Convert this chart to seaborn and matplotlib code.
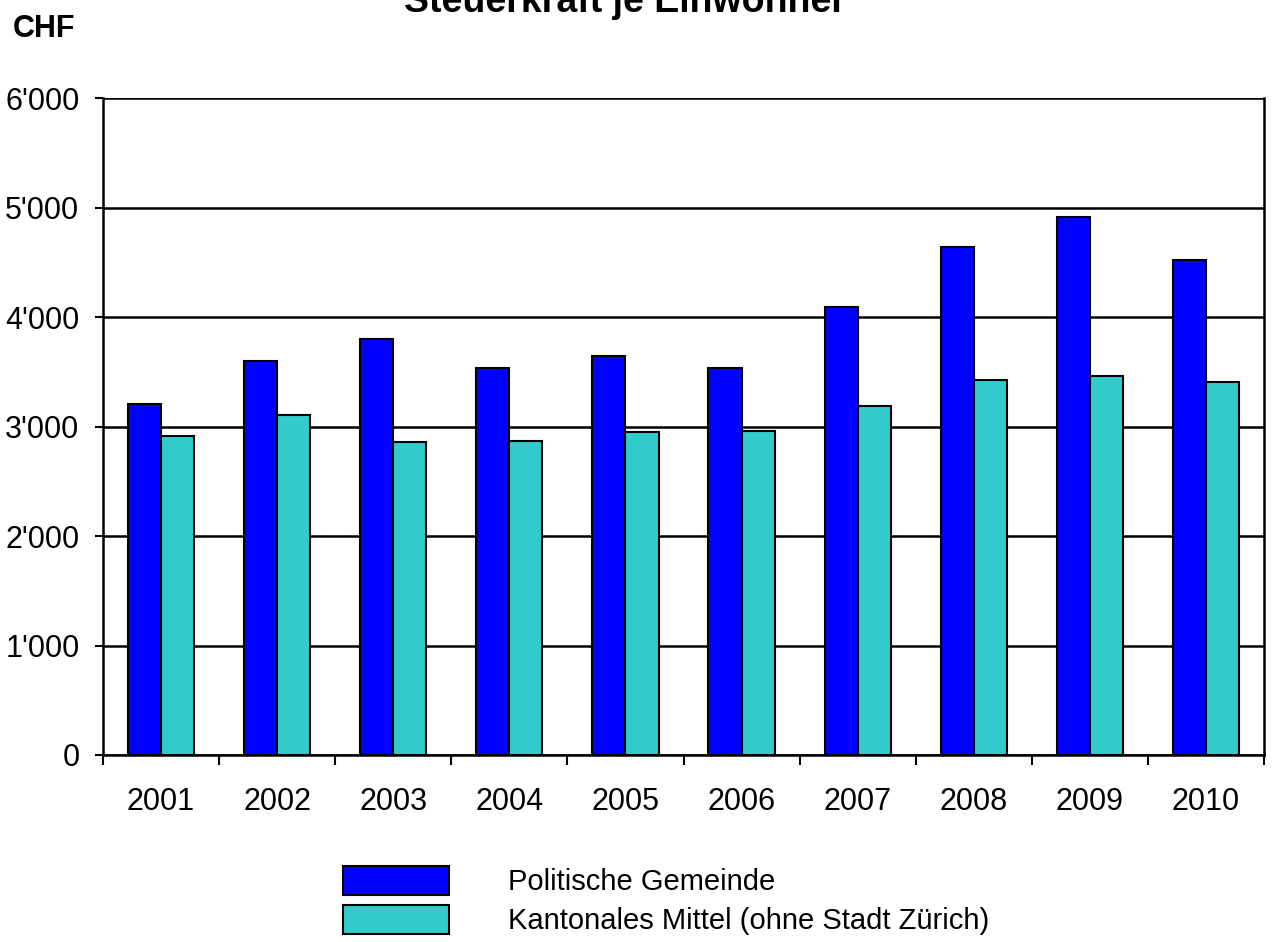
import numpy as np
import pandas as pd
import matplotlib
matplotlib.use("Agg")
import matplotlib.pyplot as plt
from matplotlib.ticker import FuncFormatter, FixedLocator
import seaborn as sns

years = ["2001", "2002", "2003", "2004", "2005", "2006", "2007", "2008", "2009", "2010"]
gemeinde = [3210, 3600, 3800, 3535, 3645, 3530, 4090, 4640, 4910, 4520]
kanton = [2915, 3105, 2860, 2870, 2950, 2960, 3190, 3425, 3465, 3410]
series_names = ["Politische Gemeinde", "Kantonales Mittel (ohne Stadt Zürich)"]
colors = ["#0000FF", "#33CCCC"]

sns.set_theme(style="white")
plt.rcParams["font.family"] = ["Liberation Sans", "DejaVu Sans"]
plt.rcParams["text.color"] = "black"
plt.rcParams["xtick.color"] = "black"
plt.rcParams["ytick.color"] = "black"
plt.rcParams["axes.labelcolor"] = "black"

df = pd.DataFrame({
    "Jahr": years * 2,
    "Wert": gemeinde + kanton,
    "Serie": [series_names[0]] * len(years) + [series_names[1]] * len(years),
})

fig = plt.figure(figsize=(12.74, 9.42), dpi=100)
ax = fig.add_axes([103 / 1274, 1 - 755 / 942, (1264 - 103) / 1274, (755 - 98) / 942])

sns.barplot(data=df, x="Jahr", y="Wert", hue="Serie", palette=colors,
            width=0.57, gap=0, edgecolor="black", linewidth=1.5,
            ax=ax, legend=True, errorbar=None, saturation=1, zorder=3)

ax.set_ylim(0, 6000)
ax.set_xlim(-0.5, len(years) - 0.5)
ax.set_yticks(np.arange(0, 6001, 1000))
ax.yaxis.set_major_formatter(FuncFormatter(lambda v, p: f"{int(v):,}".replace(",", "'")))
ax.yaxis.grid(True, color="black", linewidth=1.8, zorder=0)
ax.set_axisbelow(True)
ax.set_xlabel("")
ax.set_ylabel("")

for s in ["left", "right", "bottom"]:
    ax.spines[s].set_visible(True)
    ax.spines[s].set_color("black")
    ax.spines[s].set_linewidth(1.8)
ax.spines["top"].set_visible(False)

ax.tick_params(axis="y", which="major", direction="out", length=6, width=1.5,
               color="black", labelsize=22, pad=11, left=True, labelcolor="black")
ax.tick_params(axis="x", which="major", length=0, labelsize=22, pad=23, labelcolor="black")
ax.xaxis.set_minor_locator(FixedLocator(np.arange(-0.5, len(years), 1.0)))
ax.tick_params(axis="x", which="minor", direction="out", length=7.5, width=1.5,
               color="black", bottom=True)

handles, labels = ax.get_legend_handles_labels()
ax.legend_.remove()
leg = fig.legend(handles, labels, loc="upper left",
                 bbox_to_anchor=(343 / 1274, 1 - 866 / 942), frameon=False,
                 fontsize=21, handlelength=3.65, handleheight=1.15, handletextpad=2.0,
                 labelspacing=0.3, borderpad=0, borderaxespad=0)
for t in leg.get_texts():
    t.set_color("black")

fig.text(13 / 1274, 1 - 37 / 942, "CHF", fontsize=22, fontweight="bold",
         ha="left", va="baseline", color="black")
fig.text(625 / 1274, 1 - 12 / 942, "Steuerkraft je Einwohner", fontsize=27,
         fontweight="bold", ha="center", va="baseline", color="black")

fig.savefig("out.png", dpi=100)
